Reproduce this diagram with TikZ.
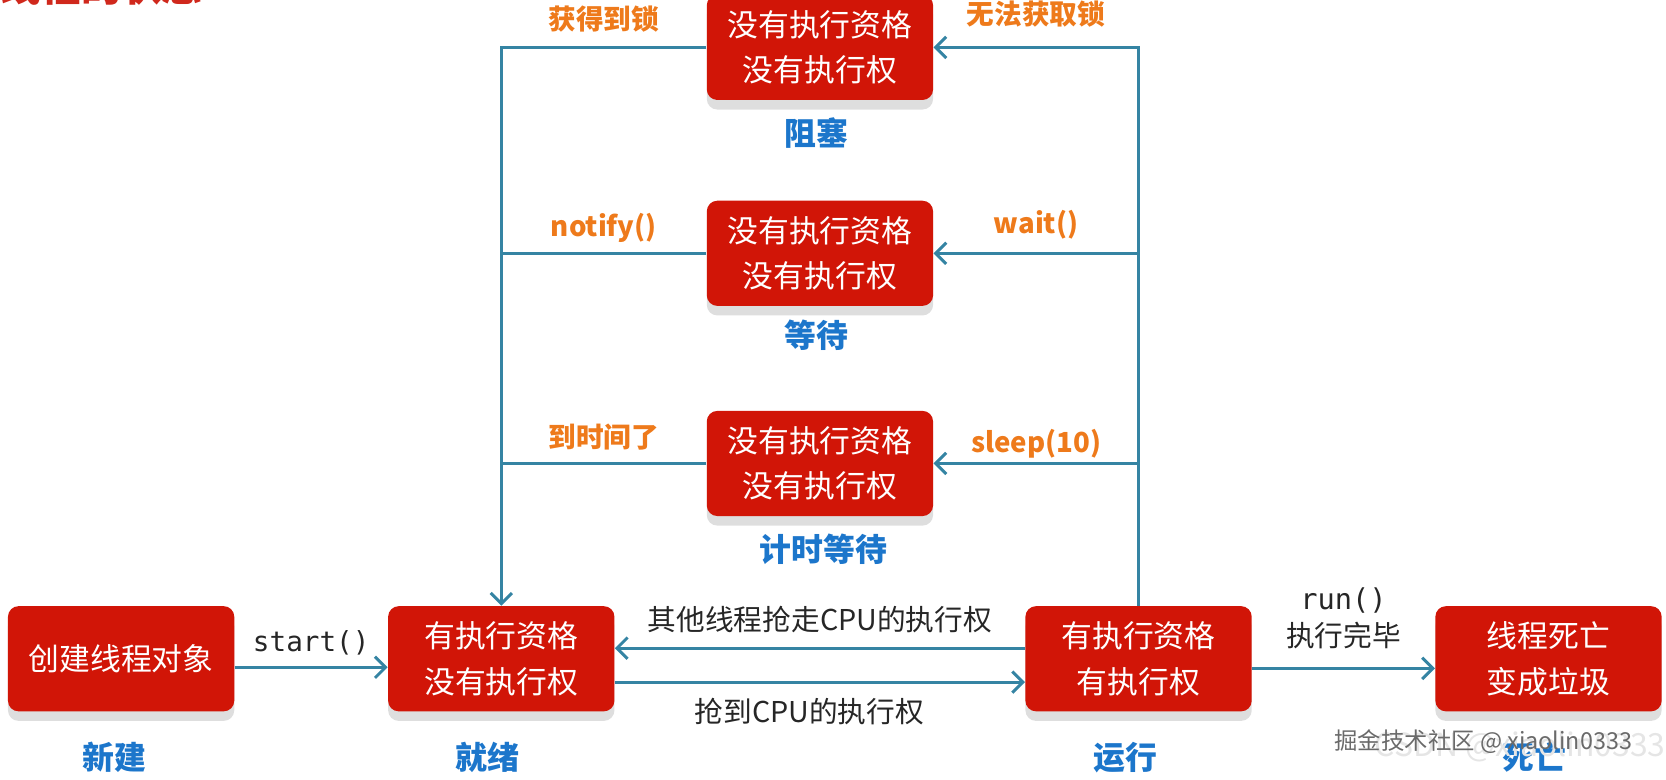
\documentclass[tikz,border=0pt]{standalone}
\usepackage{fontspec}
\setmainfont{Noto Sans CJK SC}
\setmonofont{DejaVu Sans Mono}
\usetikzlibrary{arrows.meta, positioning, shadows, calc}
\definecolor{boxred}{HTML}{D11507}
\definecolor{linkteal}{HTML}{3584A3}
\definecolor{condorange}{HTML}{EE7A1B}
\definecolor{stateblue}{HTML}{1C76CB}
\definecolor{titlered}{HTML}{D0281C}
\definecolor{markgrey}{HTML}{6A6A6A}
\tikzset{
    state/.style={
        rectangle, rounded corners=5pt,
        fill=boxred, text=white,
        minimum width=106.5pt, minimum height=49.5pt,
        inner sep=0pt, align=center,
        font=\fontsize{14.5pt}{21.5pt}\selectfont,
        drop shadow={shadow xshift=0pt, shadow yshift=-4.5pt, fill=black!13, opacity=1}
    },
    state name/.style={
        font=\fontsize{15pt}{17pt}\selectfont\bfseries,
        text=stateblue, inner sep=0pt
    },
    cond/.style={
        font=\fontsize{13pt}{15pt}\selectfont\bfseries,
        text=condorange, inner sep=0pt
    },
    event/.style={
        font=\fontsize{13.5pt}{17.5pt}\selectfont,
        text=black!85, inner sep=0pt, align=center
    },
    code/.style={
        font=\fontsize{13pt}{16pt}\selectfont\ttfamily,
        text=black!85, inner sep=0pt
    },
    arr/.style={-{Straight Barb[length=5pt, width=10pt]}, line width=1.4pt, color=linkteal},
    link/.style={line width=1.4pt, color=linkteal}
}

\begin{document}
\begin{tikzpicture}[x=0.5pt, y=0.5pt]
    \useasboundingbox (0,0) rectangle (1568,-734);

    % --- Title (cut at the top edge) ---
    \node[font=\fontsize{19pt}{20pt}\selectfont\bfseries, text=titlered,
          anchor=base west, inner sep=0pt] (title) at (0,-1.5) {线程的状态};

    % --- Bottom row: life cycle ---
    \node[state] (new) at (114,-620) {创建线程对象};
    \node[state, right=72pt of new] (ready) {有执行资格\\没有执行权};
    \node[state, right=193pt of ready] (running) {有执行资格\\有执行权};
    \node[state, right=86pt of running] (dead) {线程死亡\\变成垃圾};

    % --- Column: blocked / waiting / timed waiting ---
    \coordinate (mid) at ($(ready.north)!0.5!(running.north)$);
    \node[state, above=42pt of mid] (timed) {没有执行资格\\没有执行权};
    \node[state, above=49pt of timed] (waiting) {没有执行资格\\没有执行权};
    \node[state, above=47pt of waiting] (blocked) {没有执行资格\\没有执行权};

    % --- State names ---
    \node[state name, below=15.5pt of blocked, anchor=center, xshift=-1.75pt] (nblocked) {阻塞};
    \node[state name, below=13.5pt of waiting, anchor=center, xshift=-1.75pt] (nwaiting) {等待};
    \node[state name, below=15.5pt of timed, anchor=center, xshift=1.75pt] (ntimed) {计时等待};
    \node[state name, below=21.5pt of new, anchor=center, xshift=-3pt] (nnew) {新建};
    \node[state name, below=21.5pt of ready, anchor=center, xshift=-6.5pt] (nready) {就绪};
    \node[state name, below=21.5pt of running, anchor=center, xshift=-6pt] (nrunning) {运行};
    \node[state name, below=21.5pt of dead, anchor=center, xshift=-6.5pt] (ndead) {死亡};

    % --- Back to ready (left side) ---
    \draw[arr] (blocked.west) -| node[cond, pos=0.25, yshift=13.5pt] {获得到锁} (ready.north);
    \draw[link] (waiting.west) -- node[cond, yshift=12pt] {notify()} (waiting.west -| ready.north);
    \draw[link] (timed.west) -- node[cond, yshift=12.5pt] {到时间了} (timed.west -| ready.north);

    % --- Out of running (right side) ---
    \draw[arr] (running.north) |- node[cond, pos=0.75, yshift=15.5pt] {无法获取锁} (blocked.east);
    \draw[arr] (running.north |- waiting.east) -- node[cond, yshift=13.5pt] {wait()} (waiting.east);
    \draw[arr] (running.north |- timed.east) -- node[cond, yshift=9.5pt] {sleep(10)} (timed.east);

    % --- Bottom arrows ---
    \draw[arr] ([yshift=-4pt]new.east) -- node[code, yshift=11.5pt] {start()} ([yshift=-4pt]ready.west);
    \draw[arr] ([yshift=5pt]running.west) -- node[event, yshift=13.5pt] {其他线程抢走CPU的执行权} ([yshift=5pt]ready.east);
    \draw[arr] ([yshift=-11pt]ready.east) -- node[event, xshift=-5pt, yshift=-14pt] {抢到CPU的执行权} ([yshift=-11pt]running.west);
    \draw[arr] ([yshift=-4.5pt]running.east) -- node[event, yshift=23.5pt] {\texttt{run()}\\执行完毕} ([yshift=-4.5pt]dead.west);

    % --- Watermarks ---
    \node[font=\fontsize{15pt}{15pt}\selectfont, text=black!10, anchor=east, inner sep=0pt] (csdn) at (1568,-703) {CSDN @xiaolin0333};
    \node[font=\fontsize{11pt}{11pt}\selectfont, text=markgrey, inner sep=0pt] (mark) at (1396,-698) {掘金技术社区 @ xiaolin0333};

\end{tikzpicture}
\end{document}
